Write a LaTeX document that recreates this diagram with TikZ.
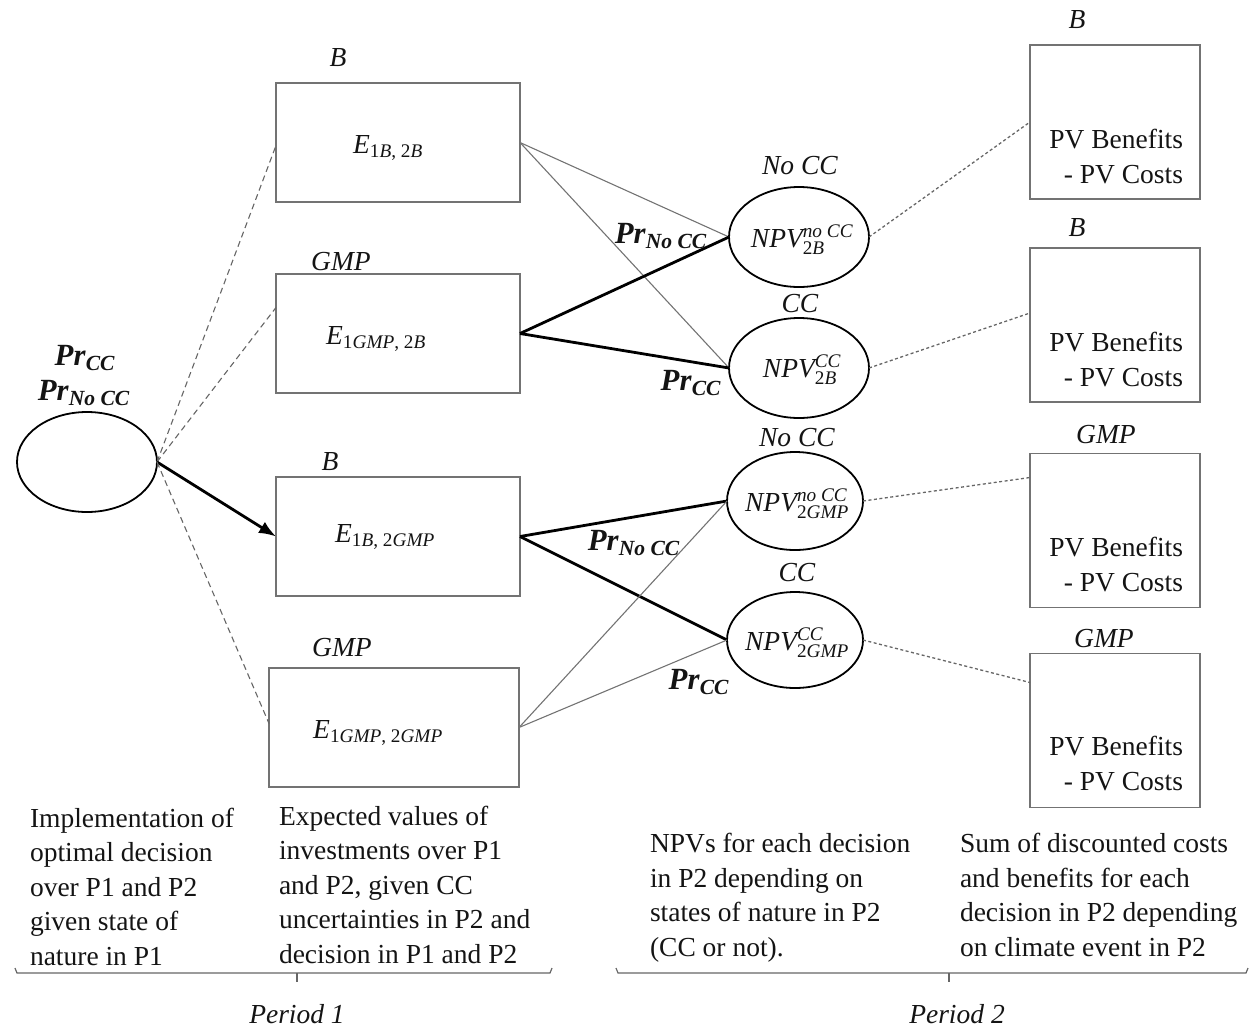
\documentclass[tikz,border=0pt]{standalone}
\usepackage{amsmath}
\usepackage{fontspec}
\setmainfont{Liberation Serif}
\usetikzlibrary{shapes.geometric,arrows.meta,calc}

% italic labels and bold probabilities
\newcommand{\ital}[1]{\textit{#1}}
\newcommand{\prob}[1]{\scalebox{1.12}{$\textbf{\textit{Pr}}_{\textbf{\textit{#1}}}$}}
\newcommand{\expv}[2]{$\textit{E}_{\text{#1, #2}}$}
\newcommand{\npv}[2]{$\textit{NPV}^{\textit{#1}}_{\text{#2}}$}

\begin{document}
\begin{tikzpicture}[x=1pt,y=-1pt,
  every node/.style={inner sep=0pt, outer sep=0pt, font=\fontsize{27.5}{34.5}\selectfont, text=black!92},
  box/.style={draw=black!55, line width=1.4pt, minimum width=244pt, minimum height=119pt},
  outbox/.style={draw=black!55, line width=1.4pt, minimum width=170pt, minimum height=154pt},
  chance/.style={ellipse, draw=black, line width=1.8pt, minimum width=140pt, minimum height=100pt},
  dashlink/.style={draw=black!60, line width=1.1pt, dash pattern=on 6pt off 4pt},
  thinlink/.style={draw=black!55, line width=1.1pt},
  boldlink/.style={draw=black, line width=2.8pt},
  dotlink/.style={draw=black!60, line width=1.3pt, dash pattern=on 3pt off 2.5pt},
  bracket/.style={draw=black!60, line width=1.2pt},
  note/.style={align=left, anchor=base west},
  pvtext/.style={align=right, anchor=base east}
]
\path[use as bounding box] (0,0) rectangle (1249,1028);

% ---- root decision node
\node[chance] (root) at (87,462) {};
\node (prcc) at (85,358) {\prob{CC}};
\node (prno) at (84,393) {\prob{No CC}};

% ---- period 1 investment boxes
\node[box] (b1) at (398,142.5) {};
\node[box] (b2) at (398,333.5) {};
\node[box] (b3) at (398,536.5) {};
\node[box, minimum width=250pt] (b4) at (394,727.5) {};

\node (t1) at (338,58) {\ital{B}};
\node (t2) at (341,262) {\ital{GMP}};
\node (t3) at (330,462) {\ital{B}};
\node (t4) at (342,648) {\ital{GMP}};

\node (e1) at (388,148) {\expv{1\textit{B}}{2\textit{B}}};
\node (e2) at (376,339) {\expv{1\textit{GMP}}{2\textit{B}}};
\node (e3) at (385,537) {\expv{1\textit{B}}{2\textit{GMP}}};
\node (e4) at (378,733) {\expv{1\textit{GMP}}{2\textit{GMP}}};

% ---- period 2 chance nodes
\node[chance] (n1) at (799,237) {};
\node[chance] (n2) at (799,368) {};
\node[chance, minimum width=136pt, minimum height=98pt] (n3) at (795,501) {};
\node[chance, minimum width=136pt, minimum height=96pt] (n4) at (795,640) {};

\node (s1) at (800,166) {\ital{No CC}};
\node (s2) at (800,304) {\ital{CC}};
\node (s3) at (797,438) {\ital{No CC}};
\node (s4) at (797,573) {\ital{CC}};

\node (v1) at (802,240) {\npv{no CC}{2\textit{B}}};
\node (v2) at (802,370) {\npv{CC}{2\textit{B}}};
\node (v3) at (797,504) {\npv{no CC}{2\textit{GMP}}};
\node (v4) at (797,643) {\npv{CC}{2\textit{GMP}}};

% ---- outcome boxes
\node[outbox] (r1) at (1115,122) {};
\node[outbox] (r2) at (1115,325) {};
\node[outbox] (r3) at (1115,530.5) {};
\node[outbox] (r4) at (1115,730.5) {};

\node (u1) at (1077,20) {\ital{B}};
\node (u2) at (1077,228) {\ital{B}};
\node (u3) at (1106,435) {\ital{GMP}};
\node (u4) at (1104,639) {\ital{GMP}};

\node[pvtext] (p1) at (1183,183) {PV Benefits\\- PV Costs};
\node[pvtext] (p2) at (1183,386) {PV Benefits\\- PV Costs};
\node[pvtext] (p3) at (1183,591) {PV Benefits\\- PV Costs};
\node[pvtext] (p4) at (1183,790) {PV Benefits\\- PV Costs};

% ---- connectors from the root
\draw[dashlink] (root.east) -- ([yshift=-3pt]b1.west);
\draw[dashlink] (root.east) -- ([yshift=26pt]b2.west);
\draw[boldlink, -{Latex[length=17pt,width=13pt]}] (root.east) -- (b3.west);
\draw[dashlink] (root.east) -- ([yshift=4pt]b4.west);

% ---- connectors from the investment boxes
\draw[thinlink] (b1.east) -- (n1.west);
\draw[thinlink] (b1.east) -- (n2.west);
\draw[boldlink] (b2.east) -- (n1.west);
\draw[boldlink] (b2.east) -- (n2.west);
\draw[boldlink] (b3.east) -- (n3.west);
\draw[boldlink] (b3.east) -- (n4.west);
\draw[thinlink] (b4.east) -- (n3.west);
\draw[thinlink] (b4.east) -- (n4.west);

\node (q1) at (661,236) {\prob{No CC}};
\node (q2) at (691,383) {\prob{CC}};
\node (q3) at (634,543) {\prob{No CC}};
\node (q4) at (699,682) {\prob{CC}};

% ---- connectors to the outcome boxes
\draw[dotlink] (n1.east) -- (r1.west);
\draw[dotlink] (n2.east) -- ([yshift=12pt]r2.west);
\draw[dotlink] (n3.east) -- ([yshift=53pt]r3.west);
\draw[dotlink] (n4.east) -- ([yshift=48pt]r4.west);

% ---- explanatory notes (anchored at the baseline of their last line)
\node[note] (c1) at (30,965) {Implementation of\\optimal decision\\over P1 and P2\\given state of\\nature in P1};
\node[note] (c2) at (279,963) {Expected values of\\investments over P1\\and P2, given CC\\uncertainties in P2 and\\decision in P1 and P2};
\node[note] (c3) at (650,956) {NPVs for each decision\\in P2 depending on\\states of nature in P2\\(CC or not).};
\node[note] (c4) at (960,956) {Sum of discounted costs\\and benefits for each\\decision in P2 depending\\on climate event in P2};

% ---- period brackets
\draw[bracket] (15,968) -- (17,973) -- (550,973) -- (552,968);
\draw[bracket] (297,973) -- (297,982);
\draw[bracket] (616,968) -- (618,973) -- (1246,973) -- (1248,968);
\draw[bracket] (949,973) -- (949,982);

\node (k1) at (297,1014) {\ital{Period 1}};
\node (k2) at (957,1014) {\ital{Period 2}};
\end{tikzpicture}
\end{document}
